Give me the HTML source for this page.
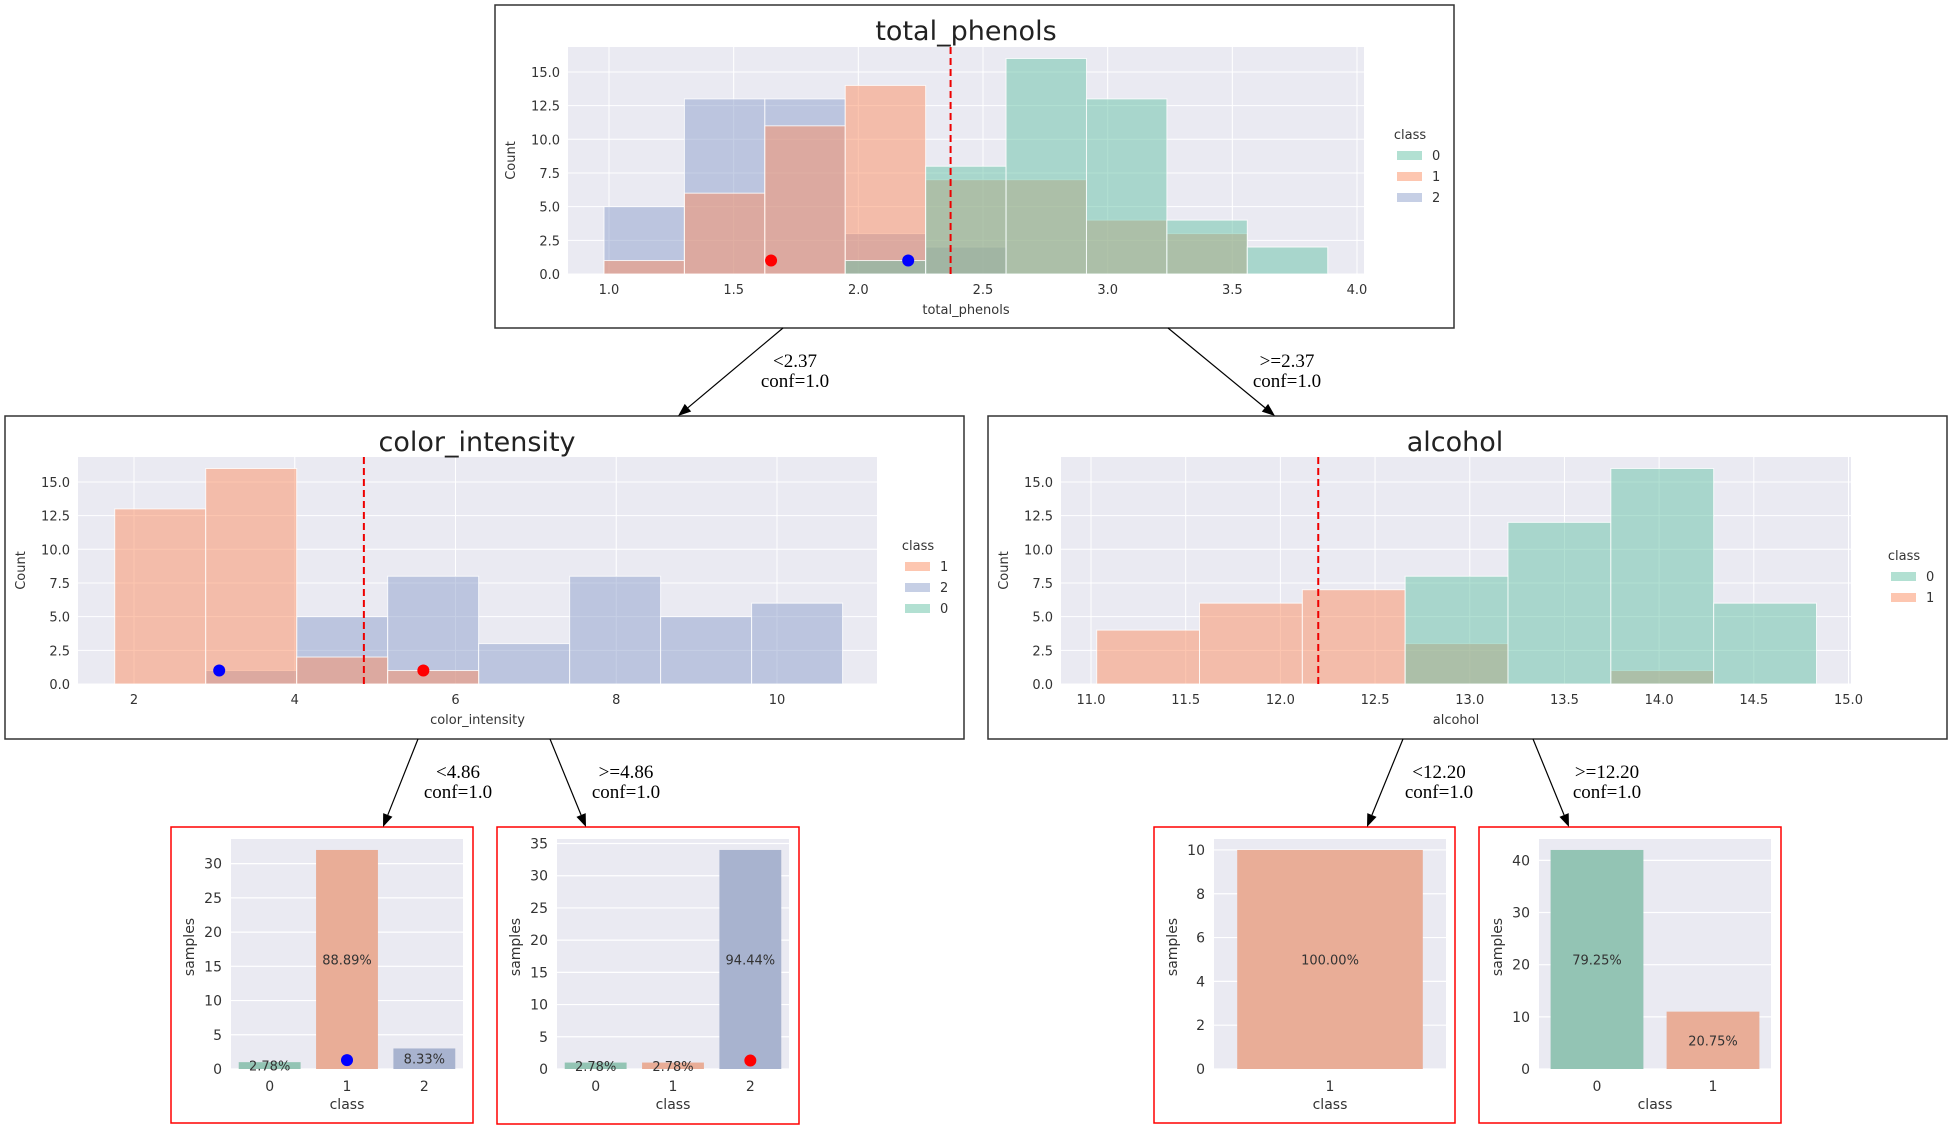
<!DOCTYPE html>
<html><head><meta charset="utf-8"><style>
html,body{margin:0;padding:0;background:#fff;}
svg{display:block;}
text{font-family:"DejaVu Sans","Liberation Sans",sans-serif;}
.edge{font-family:"Liberation Serif",serif;font-size:19px;fill:#000;}
</style></head><body>
<svg id="svg" width="1952" height="1129" xmlns="http://www.w3.org/2000/svg"></svg>
<script>
// ---- data ----
const phenolsBins = [0.98, 0.3225];
const phenolsClass0 = [0, 0, 0, 1, 8, 16, 13, 4, 2];
const phenolsClass1 = [1, 6, 11, 14, 7, 7, 4, 3, 0];
const phenolsClass2 = [5, 13, 13, 3, 2, 0, 0, 0, 0];
const phenolsTicks = [1.0, 1.5, 2.0, 2.5, 3.0, 3.5, 4.0];
const phenolsSplit = 2.37;
const phenolsDots = [[1.65, 1, 'red'], [2.2, 1, 'blue']];

const colorBins = [1.76, 1.132];
const colorClass1 = [13, 16, 2, 1, 0, 0, 0, 0];
const colorClass2 = [0, 1, 5, 8, 3, 8, 5, 6];
const colorTicks = [2, 4, 6, 8, 10];
const colorSplit = 4.86;
const colorDots = [[3.06, 1, 'blue'], [5.6, 1, 'red']];

const alcoholBins = [11.03, 0.543];
const alcoholClass0 = [0, 0, 0, 8, 12, 16, 6];
const alcoholClass1 = [4, 6, 7, 3, 0, 1, 0];
const alcoholTicks = [11.0, 11.5, 12.0, 12.5, 13.0, 13.5, 14.0, 14.5, 15.0];
const alcoholSplit = 12.2;

const countTicks = [0, 2.5, 5, 7.5, 10, 12.5, 15];

const leaf1Classes = ['0', '1', '2'];
const leaf1Values = [1, 32, 3];
const leaf1Ticks = [0, 5, 10, 15, 20, 25, 30];
const leaf2Classes = ['0', '1', '2'];
const leaf2Values = [1, 1, 34];
const leaf2Ticks = [0, 5, 10, 15, 20, 25, 30, 35];
const leaf3Classes = ['1'];
const leaf3Values = [10];
const leaf3Ticks = [0, 2, 4, 6, 8, 10];
const leaf4Classes = ['0', '1'];
const leaf4Values = [42, 11];
const leaf4Ticks = [0, 10, 20, 30, 40];

// ---- helpers ----
const NS = 'http://www.w3.org/2000/svg';
const svg = document.getElementById('svg');
function el(tag, attrs, parent, txt) {
  const e = document.createElementNS(NS, tag);
  for (const k in attrs) e.setAttribute(k, attrs[k]);
  if (txt !== undefined) e.textContent = txt;
  (parent || svg).appendChild(e);
  return e;
}
const COL = {'0': [102,194,165], '1': [252,141,98], '2': [141,160,203]};
const LEAFCOL = {'0': '#93c4b4', '1': '#e9ad97', '2': '#a8b3cf'};
const rgba = (c, a) => `rgba(${c[0]},${c[1]},${c[2]},${a})`;

function hist(o) {
  const g = el('g', {});
  
  
  const b = el('rect', {x: o.box[0], y: o.box[1], width: o.box[2]-o.box[0], height: o.box[3]-o.box[1], fill: '#fff', stroke: '#333', 'stroke-width': 1.5}, g);
  
  
  const [px0, px1, py0, py1] = o.plot;
  const xs = v => o.xa[1] + (v - o.xa[0]) * (o.xb[1] - o.xa[1]) / (o.xb[0] - o.xa[0]);
  const ys = v => py1 - v * 13.47;
  el('rect', {x: px0, y: py0, width: px1-px0, height: py1-py0, fill: '#EAEAF2'}, g);
  o.xticks.forEach(t => {
    el('line', {x1: xs(t), x2: xs(t), y1: py0, y2: py1, stroke: '#fff', 'stroke-width': 1}, g);
    const tl = el('text', {x: xs(t), y: py1 + 20, 'font-size': 13, fill: '#333', 'text-anchor': 'middle'}, g, o.fmt(t));
    
    
  });
  countTicks.forEach(t => {
    el('line', {x1: px0, x2: px1, y1: ys(t), y2: ys(t), stroke: '#fff', 'stroke-width': 1}, g);
    const tl = el('text', {x: px0 - 8, y: ys(t) + 5, 'font-size': 13, fill: '#333', 'text-anchor': 'end'}, g, t.toFixed(1));
    
    
  });
  o.series.forEach(s => {
    s.vals.forEach((v, i) => {
      if (!v) return;
      const a = o.bins[0] + i * o.bins[1], c = a + o.bins[1];
      const r = el('rect', {x: xs(a), y: ys(v), width: xs(c) - xs(a), height: ys(0) - ys(v), fill: rgba(COL[s.cls], 0.5), stroke: 'rgba(255,255,255,0.8)', 'stroke-width': 1}, g);
      
      
    });
  });
  const sl = el('line', {x1: xs(o.split), x2: xs(o.split), y1: py0, y2: py1, stroke: '#e00', 'stroke-width': 2, 'stroke-dasharray': '7,4'}, g);
  
  
  (o.dots || []).forEach(d => {
    const c = el('circle', {cx: xs(d[0]), cy: ys(d[1]), r: 6, fill: d[2] === 'red' ? '#f00' : '#00f'}, g);
    
    
  });
  const t = el('text', {x: o.titleX, y: o.box[1] + 35, 'font-size': 27, fill: '#222', 'text-anchor': 'middle'}, g, o.name);
  
  
  const xl = el('text', {x: (px0 + px1) / 2, y: py1 + 40, 'font-size': 13, fill: '#333', 'text-anchor': 'middle'}, g, o.name);
  
  
  const yl = el('text', {x: 0, y: 0, 'font-size': 13, fill: '#333', 'text-anchor': 'middle', transform: `translate(${o.box[0] + 20},${(py0 + py1) / 2}) rotate(-90)`}, g, 'Count');
  
  
  const lg = el('g', {}, g);
  
  
  el('text', {x: o.leg[0] + 13, y: o.leg[1], 'font-size': 13, fill: '#333', 'text-anchor': 'middle'}, lg, 'class');
  o.legOrder.forEach((k, i) => {
    const y = o.leg[1] + 21 * (i + 1);
    const r = el('rect', {x: o.leg[0], y: y - 9, width: 25, height: 9, fill: rgba(COL[k], 0.5)}, lg);
    
    
    el('text', {x: o.leg[0] + 35, y: y, 'font-size': 13, fill: '#333'}, lg, k);
  });
}

hist({name: 'total_phenols', box: [495, 5, 1454, 328], plot: [568, 1364, 47, 274],
  xa: [1.0, 609], xb: [4.0, 1357], xticks: phenolsTicks, fmt: t => t.toFixed(1), bins: phenolsBins,
  series: [{cls: '2', vals: phenolsClass2}, {cls: '1', vals: phenolsClass1}, {cls: '0', vals: phenolsClass0}],
  split: phenolsSplit, dots: phenolsDots, titleX: 966, leg: [1397, 139], legOrder: ['0', '1', '2']});
hist({name: 'color_intensity', box: [5, 416, 964, 739], plot: [78, 877, 457, 684],
  xa: [2, 134], xb: [10, 777], xticks: colorTicks, fmt: t => String(t), bins: colorBins,
  series: [{cls: '2', vals: colorClass2}, {cls: '1', vals: colorClass1}],
  split: colorSplit, dots: colorDots, titleX: 477, leg: [905, 550], legOrder: ['1', '2', '0']});
hist({name: 'alcohol', box: [988, 416, 1947, 739], plot: [1061, 1851, 457, 684],
  xa: [11.0, 1091], xb: [15.0, 1848.5], xticks: alcoholTicks, fmt: t => t.toFixed(1), bins: alcoholBins,
  series: [{cls: '1', vals: alcoholClass1}, {cls: '0', vals: alcoholClass0}],
  split: alcoholSplit, dots: [], titleX: 1455, leg: [1891, 560], legOrder: ['0', '1']});

function leaf(o) {
  const g = el('g', {});
  
  
  const b = el('rect', {x: o.box[0], y: o.box[1], width: o.box[2]-o.box[0], height: o.box[3]-o.box[1], fill: '#fff', stroke: '#f00', 'stroke-width': 1.5}, g);
  
  
  const [px0, px1, py0, py1] = o.plot;
  const ymax = Math.max(...o.vals) * 1.05;
  const ys = v => py1 - v * (py1 - py0) / ymax;
  const n = o.classes.length, bw = (px1 - px0) / n;
  const xs = i => px0 + bw * (i + 0.5);
  el('rect', {x: px0, y: py0, width: px1-px0, height: py1-py0, fill: '#EAEAF2'}, g);
  o.ticks.forEach(t => {
    el('line', {x1: px0, x2: px1, y1: ys(t), y2: ys(t), stroke: '#fff', 'stroke-width': 1.2}, g);
    const tl = el('text', {x: px0 - 9, y: ys(t) + 5, 'font-size': 14, fill: '#333', 'text-anchor': 'end'}, g, String(t));
    
    
  });
  const tot = o.vals.reduce((a, b) => a + b, 0);
  o.vals.forEach((v, i) => {
    const r = el('rect', {x: xs(i) - bw * 0.4, y: ys(v), width: bw * 0.8, height: ys(0) - ys(v), fill: LEAFCOL[o.classes[i]]}, g);
    
    
    const lt = el('text', {x: xs(i), y: (ys(v) + ys(0)) / 2 + 5, 'font-size': 13, fill: '#333', 'text-anchor': 'middle'}, g, (v / tot * 100).toFixed(2) + '%');
    
    
    const xt = el('text', {x: xs(i), y: py1 + 22, 'font-size': 14, fill: '#333', 'text-anchor': 'middle'}, g, o.classes[i]);
    
    
  });
  if (o.dot) {
    const c = el('circle', {cx: xs(o.dot[0]), cy: ys(1) - 2, r: 6, fill: o.dot[1]}, g);
    
    
  }
  const xl = el('text', {x: (px0 + px1) / 2, y: py1 + 40, 'font-size': 14, fill: '#333', 'text-anchor': 'middle'}, g, 'class');
  
  
  const yl = el('text', {x: 0, y: 0, 'font-size': 14, fill: '#333', 'text-anchor': 'middle', transform: `translate(${o.box[0] + 23},${(py0 + py1) / 2 - 7}) rotate(-90)`}, g, 'samples');
  
  
}
leaf({name: 'leaf-color-low', box: [171, 827, 473, 1123], plot: [231, 463, 839, 1069], classes: leaf1Classes, vals: leaf1Values, ticks: leaf1Ticks, dot: [1, '#00f']});
leaf({name: 'leaf-color-high', box: [497, 827, 799, 1124], plot: [557, 789, 839, 1069], classes: leaf2Classes, vals: leaf2Values, ticks: leaf2Ticks, dot: [2, '#f00']});
leaf({name: 'leaf-alcohol-low', box: [1154, 827, 1455, 1123], plot: [1214, 1446, 839, 1069], classes: leaf3Classes, vals: leaf3Values, ticks: leaf3Ticks});
leaf({name: 'leaf-alcohol-high', box: [1479, 827, 1781, 1123], plot: [1539, 1771, 839, 1069], classes: leaf4Classes, vals: leaf4Values, ticks: leaf4Ticks});

function edge(x1, y1, x2, y2, lx, l1, name) {
  const g = el('g', {});
  
  
  const ang = Math.atan2(y2 - y1, x2 - x1), L = 13, W = 5;
  const bx = x2 - L * Math.cos(ang), by = y2 - L * Math.sin(ang);
  el('line', {x1, y1, x2: bx, y2: by, stroke: '#000', 'stroke-width': 1.2}, g);
  const nx = -Math.sin(ang) * W, ny = Math.cos(ang) * W;
  el('polygon', {points: `${x2},${y2} ${bx+nx},${by+ny} ${bx-nx},${by-ny}`, fill: '#000'}, g);
  el('text', {x: lx, y: y1 + 39, class: 'edge', 'text-anchor': 'middle'}, g, l1);
  el('text', {x: lx, y: y1 + 59, class: 'edge', 'text-anchor': 'middle'}, g, 'conf=1.0');
}
edge(783, 328, 678, 416, 795, '<2.37', 'edge-phenols-low');
edge(1168, 328, 1275, 416, 1287, '>=2.37', 'edge-phenols-high');
edge(418, 739, 383, 827, 458, '<4.86', 'edge-color-low');
edge(550, 739, 586, 827, 626, '>=4.86', 'edge-color-high');
edge(1403, 739, 1367, 827, 1439, '<12.20', 'edge-alcohol-low');
edge(1533, 739, 1569, 827, 1607, '>=12.20', 'edge-alcohol-high');
</script>
</body></html>
